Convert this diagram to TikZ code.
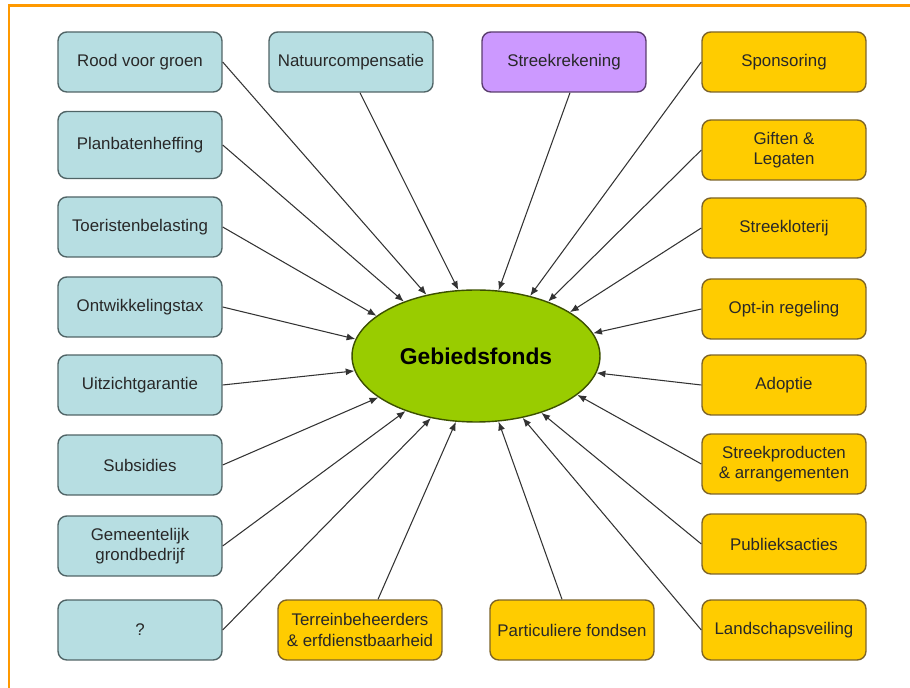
\documentclass[tikz,border=0pt]{standalone}
\usepackage{fontspec}
\setmainfont{Liberation Sans}
\usetikzlibrary{arrows.meta,shapes.geometric}
\definecolor{frameorange}{RGB}{255,153,0}
\definecolor{boxblue}{RGB}{183,222,226}
\definecolor{lineblue}{RGB}{80,100,102}
\definecolor{boxpurple}{RGB}{204,153,255}
\definecolor{linepurple}{RGB}{90,60,110}
\definecolor{boxyellow}{RGB}{255,204,0}
\definecolor{lineyellow}{RGB}{125,100,40}
\definecolor{fundgreen}{RGB}{153,204,0}
\definecolor{linegreen}{RGB}{60,80,0}
\definecolor{textgray}{RGB}{40,40,40}
\begin{document}
\begin{tikzpicture}[x=0.02cm,y=-0.02cm,
  fbox/.style={draw, rounded corners=5pt, line width=0.8pt, minimum width=3.28cm,
    minimum height=1.2cm, align=center, inner sep=2pt, text=textgray,
    font=\fontsize{9.6}{11.5}\selectfont},
  bluebox/.style={fbox, fill=boxblue, draw=lineblue},
  purplebox/.style={fbox, fill=boxpurple, draw=linepurple},
  yellowbox/.style={fbox, fill=boxyellow, draw=lineyellow},
  arr/.style={-{Latex[length=5pt,width=4pt]}, line width=0.6pt, draw=black!80}]
  \useasboundingbox (0,0) rectangle (910,688);
  \draw[frameorange, line width=1.7pt] (9,688) -- (9,6) -- (910,6);

  % centre
  \node[ellipse, draw=linegreen, line width=0.8pt, fill=fundgreen, minimum width=4.96cm,
    minimum height=2.64cm, inner sep=0pt, font=\fontsize{13}{15}\selectfont\bfseries]
    (gf) at (476,356) {Gebiedsfonds};

  % left column
  \node[bluebox] (rvg) at (140,62) {Rood voor groen};
  \node[bluebox, minimum height=1.34cm] (pbh) at (140,145) {Planbatenheffing};
  \node[bluebox] (tbl) at (140,227) {Toeristenbelasting};
  \node[bluebox] (otx) at (140,307) {Ontwikkelingstax};
  \node[bluebox] (uzg) at (140,385) {Uitzichtgarantie};
  \node[bluebox] (sub) at (140,465) {Subsidies};
  \node[bluebox] (ggb) at (140,546) {Gemeentelijk\\grondbedrijf};
  \node[bluebox] (qm) at (140,630) {?};

  % top row
  \node[bluebox] (nc) at (351,62) {Natuurcompensatie};
  \node[purplebox] (sr) at (564,62) {Streekrekening};

  % right column
  \node[yellowbox] (spo) at (784,62) {Sponsoring};
  \node[yellowbox] (gl) at (784,150) {Giften \&\\Legaten};
  \node[yellowbox] (slo) at (784,228) {Streekloterij};
  \node[yellowbox] (opt) at (784,309) {Opt-in regeling};
  \node[yellowbox] (ado) at (784,385) {Adoptie};
  \node[yellowbox] (spa) at (784,464) {Streekproducten\\\& arrangementen};
  \node[yellowbox] (pa) at (784,544) {Publieksacties};
  \node[yellowbox] (lv) at (784,630) {Landschapsveiling};

  % bottom row
  \node[yellowbox] (trb) at (360,630) {Terreinbeheerders\\\& erfdienstbaarheid};
  \node[yellowbox] (pf) at (572,630) {Particuliere fondsen};

  % connectors
  \foreach \src/\ang in {rvg/129.7, pbh/143.7, tbl/158.5, otx/172.4, uzg/187.5,
                         sub/203.1, ggb/218.8, qm/234.5}
    \draw[arr] (\src.east) -- (gf.\ang);
  \foreach \src/\ang in {spo/48.3, gl/37.7, slo/25.9, opt/11.4, ado/352.7,
                         spa/339, pa/319.6, lv/307.1}
    \draw[arr] (\src.west) -- (gf.\ang);
  \draw[arr] ([xshift=0.18cm]nc.south) -- (gf.105.3);
  \draw[arr] ([xshift=0.12cm]sr.south) -- (gf.71.3);
  \draw[arr] ([xshift=0.36cm]trb.north) -- (gf.253.4);
  \draw[arr] ([xshift=-0.2cm]pf.north) -- (gf.289.7);
\end{tikzpicture}
\end{document}
